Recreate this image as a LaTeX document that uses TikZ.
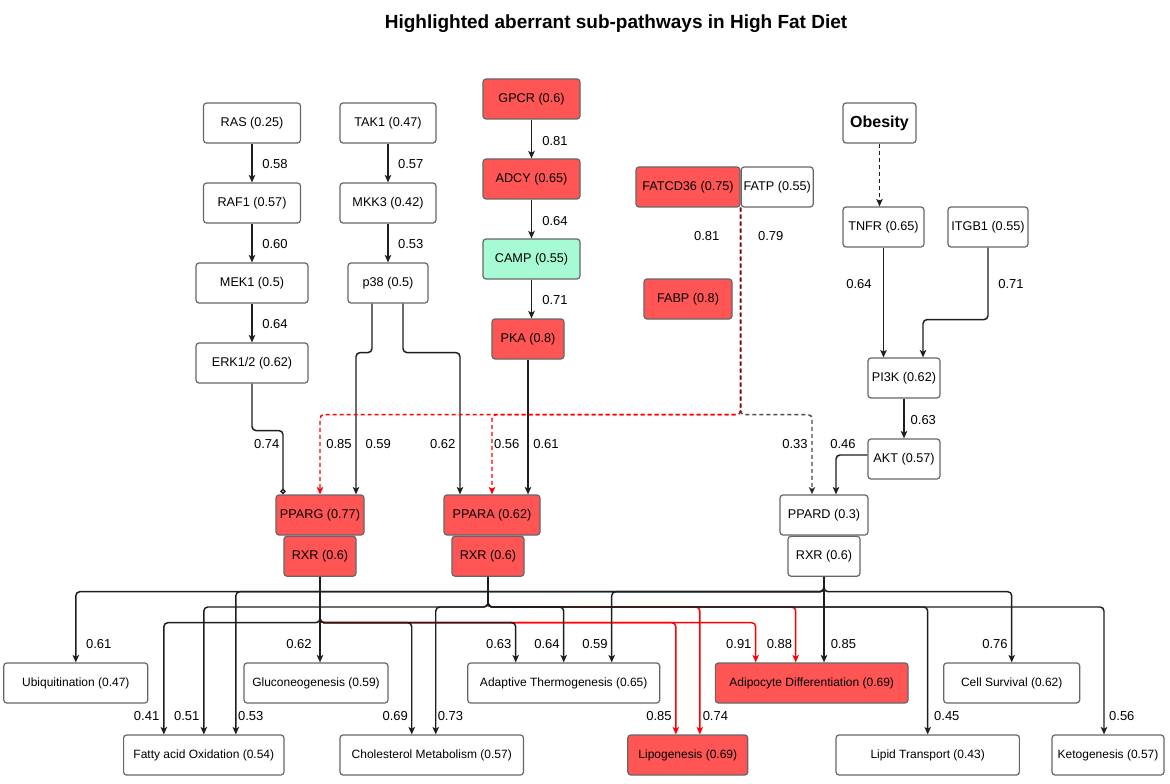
\documentclass[tikz,border=0pt]{standalone}
\usepackage{fontspec}
\setmainfont{Liberation Sans}
\usetikzlibrary{arrows.meta,positioning,calc}
\definecolor{hitRed}{RGB}{255,85,85}
\definecolor{campGreen}{RGB}{166,250,212}
\definecolor{boxGray}{RGB}{102,102,102}
\definecolor{wireBlack}{RGB}{30,30,30}

\begin{document}
\begin{tikzpicture}[x=0.75pt,y=-0.75pt,
				box/.style={draw=boxGray,line width=0.9pt,rounded corners=2.25pt,minimum height=30pt,inner sep=1pt,font=\fontsize{9.5}{11}\selectfont},
				geneVertex/.style={box,fill=white,minimum width=#1},
				hitVertex/.style={box,fill=hitRed,minimum width=#1},
				campVertex/.style={box,fill=campGreen,minimum width=#1},
				procVertex/.style={box,fill=white,minimum width=#1,font=\fontsize{9}{11}\selectfont},
				hitProc/.style={procVertex=#1,fill=hitRed},
				wt/.style={inner sep=0pt,font=\fontsize{9.75}{11}\selectfont},
				edge/.style={draw=wireBlack,line width=1.1pt,rounded corners=3pt,-{Stealth[length=5.5pt,width=4.8pt,inset=1.2pt]}},
				redEdge/.style={edge,draw=red},
				dashEdge/.style={edge,dash pattern=on 3pt off 2.25pt},
				redDash/.style={dashEdge,draw=red},
				diamondEdge/.style={edge,-{Diamond[open,length=4.5pt,width=4.5pt]}}]
			\useasboundingbox (0,0) rectangle (1170,784);
			\node[font=\bfseries\fontsize{14.25}{17}\selectfont] (ttl) at (616,24) {Highlighted aberrant sub-pathways in High Fat Diet};

			% MAPK arm
			\node[geneVertex=72.75pt] (ras) at (252,123) {RAS (0.25)};
			\node[geneVertex=72.75pt] (raf) at (252,203) {RAF1 (0.57)};
			\node[geneVertex=84pt] (mek) at (252,283) {MEK1 (0.5)};
			\node[geneVertex=84pt] (erk) at (252,363) {ERK1/2 (0.62)};
			\node[geneVertex=72pt] (tak) at (388,123) {TAK1 (0.47)};
			\node[geneVertex=72pt] (mkk) at (388,203) {MKK3 (0.42)};
			\node[geneVertex=60pt] (p38) at (388,283) {p38 (0.5)};

			% cAMP arm
			\node[hitVertex=72.75pt] (gpcr) at (531.5,99) {GPCR (0.6)};
			\node[hitVertex=72.75pt] (adcy) at (531.5,179) {ADCY (0.65)};
			\node[campVertex=72.75pt] (camp) at (531.5,259) {CAMP (0.55)};
			\node[hitVertex=54pt] (pka) at (528,339) {PKA (0.8)};

			% fatty acid uptake
			\node[hitVertex=78pt] (fatcd) at (688,187) {FATCD36 (0.75)};
			\node[geneVertex=54pt,right=0pt of fatcd] (fatp) {FATP (0.55)};
			\node[hitVertex=66pt] (fabp) at (688,299) {FABP (0.8)};

			% PI3K arm
			\node[geneVertex=54.75pt,font=\bfseries\fontsize{12}{14}\selectfont] (obesity) at (879.5,123) {Obesity};
			\node[geneVertex=60.75pt] (tnfr) at (883.5,227) {TNFR (0.65)};
			\node[geneVertex=60pt] (itgb) at (988,227) {ITGB1 (0.55)};
			\node[geneVertex=54pt] (pi3k) at (904,378) {PI3K (0.62)};
			\node[geneVertex=54pt] (akt) at (904,459) {AKT (0.57)};

			% receptors
			\node[hitVertex=66pt] (pparg) at (320,515) {PPARG (0.77)};
			\node[hitVertex=54pt,below=0pt of pparg] (rxrL) {RXR (0.6)};
			\node[hitVertex=72pt] (ppara) at (492,515) {PPARA (0.62)};
			\node[hitVertex=54pt,below=0pt of ppara,xshift=-3pt] (rxrM) {RXR (0.6)};
			\node[geneVertex=66pt] (ppard) at (824,515) {PPARD (0.3)};
			\node[geneVertex=54pt,below=0pt of ppard] (rxrR) {RXR (0.6)};

			% outcomes
			\node[procVertex=108pt] (ubiq) at (75.8,683) {Ubiquitination (0.47)};
			\node[procVertex=108pt] (glucon) at (316,683) {Gluconeogenesis (0.59)};
			\node[procVertex=144pt] (adth) at (563.7,683) {Adaptive Thermogenesis (0.65)};
			\node[hitProc=144.5pt] (addiff) at (811.7,683) {Adipocyte Differentiation (0.69)};
			\node[procVertex=102pt] (cellsurv) at (1011.7,683) {Cell Survival (0.62)};
			\node[procVertex=120.3pt] (fao) at (203.8,755) {Fatty acid Oxidation (0.54)};
			\node[procVertex=137.6pt] (chol) at (431.75,755) {Cholesterol Metabolism (0.57)};
			\node[hitProc=90pt] (lipo) at (687.8,755) {Lipogenesis (0.69)};
			\node[procVertex=137.5pt] (lipidt) at (927.7,755) {Lipid Transport (0.43)};
			\node[procVertex=84pt] (keto) at (1108,755) {Ketogenesis (0.57)};

			% upstream wires
			\draw[edge] (ras) -- (raf);
			\draw[edge] (raf) -- (mek);
			\draw[edge] (mek) -- (erk);
			\draw[edge] (tak) -- (mkk);
			\draw[edge] (mkk) -- (p38);
			\draw[edge] (gpcr) -- (adcy);
			\draw[edge] (adcy) -- (camp);
			\draw[edge] (camp.south) -- (camp.south |- pka.north);
			\draw[diamondEdge] (erk.south) -- ++(0,47) -| ($(pparg.north)+(-37,0)$);
			\draw[edge] ($(p38.south)+(-16,0)$) -- ++(0,49) -| ($(pparg.north)+(36,0)$);
			\draw[edge] ($(p38.south)+(15,0)$) -- ++(0,49) -| ($(ppara.north)+(-32,0)$);
			\draw[edge] (pka.south) -- (pka.south |- ppara.north);
			\draw[redDash] (fatcd.south east) -- ++(0,207) -| (pparg.north);
			\draw[redDash] (fatcd.south east) -- ++(0,207) -| (ppara.north);
			\draw[dashEdge,draw opacity=0.8] (fatcd.south east) -- ++(0,207) -| ($(ppard.north)+(-12,0)$);
			\draw[dashEdge] (obesity.south) -- (obesity.south |- tnfr.north);
			\draw[edge] (tnfr.south) -- (tnfr.south |- pi3k.north);
			\draw[edge] (itgb.south) -- ++(0,72) -| ($(pi3k.north)+(19,0)$);
			\draw[edge] (pi3k) -- (akt);
			\draw[edge] ($(akt.west)+(0,-4)$) -| ($(ppard.north)+(12,0)$);

			% downstream buses
			\coordinate (busR) at (0,591.7);
			\coordinate (busM) at (0,607);
			\coordinate (busL) at (0,622.7);
			\draw[redEdge] (rxrM.south) -- (rxrM.south |- busM) -| ($(lipo.north)+(12,0)$);
			\draw[redEdge] (rxrM.south) -- (rxrM.south |- busM) -| ($(addiff.north)+(-16,0)$);
			\draw[redEdge] (rxrL.south) -- (rxrL.south |- busL) -| ($(lipo.north)+(-12,0)$);
			\draw[redEdge] (rxrL.south) -- (rxrL.south |- busL) -| ($(addiff.north)+(-56,0)$);
			\draw[edge] (rxrR.south) -- (rxrR.south |- busR) -| (ubiq.north);
			\draw[edge] (rxrR.south) -- (rxrR.south |- busR) -| ($(fao.north)+(32,0)$);
			\draw[edge] (rxrR.south) -- (rxrR.south |- busR) -| ($(adth.north)+(48,0)$);
			\draw[edge] (rxrR.south) -- (rxrR.south |- busR) -| (cellsurv.north);
			\draw[edge] (rxrR.south) -- (rxrR.south |- addiff.north);
			\draw[edge] (rxrM.south) -- (rxrM.south |- busM) -| (fao.north);
			\draw[edge] (rxrM.south) -- (rxrM.south |- busM) -| ($(chol.north)+(4,0)$);
			\draw[edge] (rxrM.south) -- (rxrM.south |- busM) -| (adth.north);
			\draw[edge] (rxrM.south) -- (rxrM.south |- busM) -| (lipidt.north);
			\draw[edge] (rxrM.south) -- (rxrM.south |- busM) -| ($(keto.north)+(-4,0)$);
			\draw[edge] (rxrL.south) -- (rxrL.south |- busL) -| ($(fao.north)+(-40,0)$);
			\draw[edge] (rxrL.south) -- (rxrL.south |- busL) -| ($(chol.north)+(-20,0)$);
			\draw[edge] (rxrL.south) -- (rxrL.south |- busL) -| ($(adth.north)+(-48,0)$);
			\draw[edge] (rxrL.south) -- (rxrL.south |- glucon.north);

			% weights
			\node[wt] (wRasRaf) at (275,164) {0.58};
			\node[wt] (wRafMek) at (275,244) {0.60};
			\node[wt] (wMekErk) at (275,324) {0.64};
			\node[wt] (wTakMkk) at (410.7,164) {0.57};
			\node[wt] (wMkkP38) at (410.7,244) {0.53};
			\node[wt] (wGpcrAdcy) at (555,140.7) {0.81};
			\node[wt] (wAdcyCamp) at (555,220.7) {0.64};
			\node[wt] (wCampPka) at (555,300) {0.71};
			\node[wt] (wFatcd) at (706.7,236) {0.81};
			\node[wt] (wFatp) at (770.7,236) {0.79};
			\node[wt] (wTnfrPi3k) at (859,284) {0.64};
			\node[wt] (wItgbPi3k) at (1011,284) {0.71};
			\node[wt] (wPi3kAkt) at (923.3,420) {0.63};
			\node[wt] (wFatPpard) at (795,444) {0.33};
			\node[wt] (wAktPpard) at (843,444) {0.46};
			\node[wt] (wErkPparg) at (266.7,444) {0.74};
			\node[wt] (wFatPparg) at (339,444) {0.85};
			\node[wt] (wP38Pparg) at (378.3,444) {0.59};
			\node[wt] (wP38Ppara) at (442.7,444) {0.62};
			\node[wt] (wFatPpara) at (506.7,444) {0.56};
			\node[wt] (wPkaPpara) at (546,444) {0.61};
			\node[wt] (wUbiq) at (98.7,644) {0.61};
			\node[wt] (wGlucon) at (299,644) {0.62};
			\node[wt] (wAdthL) at (498.7,644) {0.63};
			\node[wt] (wAdthM) at (547,644) {0.64};
			\node[wt] (wAdthR) at (595,644) {0.59};
			\node[wt] (wAddiffL) at (738.8,644) {0.91};
			\node[wt] (wAddiffM) at (779.4,644) {0.88};
			\node[wt] (wAddiffR) at (843.4,644) {0.85};
			\node[wt] (wCellsurv) at (995,644) {0.76};
			\node[wt] (wFaoL) at (146.6,716) {0.41};
			\node[wt] (wFaoM) at (186.8,716) {0.51};
			\node[wt] (wFaoR) at (250.7,716) {0.53};
			\node[wt] (wCholL) at (395.3,716) {0.69};
			\node[wt] (wCholM) at (450.4,716) {0.73};
			\node[wt] (wLipoL) at (659,716) {0.85};
			\node[wt] (wLipoM) at (715.4,716) {0.74};
			\node[wt] (wLipidt) at (946.8,716) {0.45};
			\node[wt] (wKeto) at (1121.8,716) {0.56};
		\end{tikzpicture}
\end{document}
